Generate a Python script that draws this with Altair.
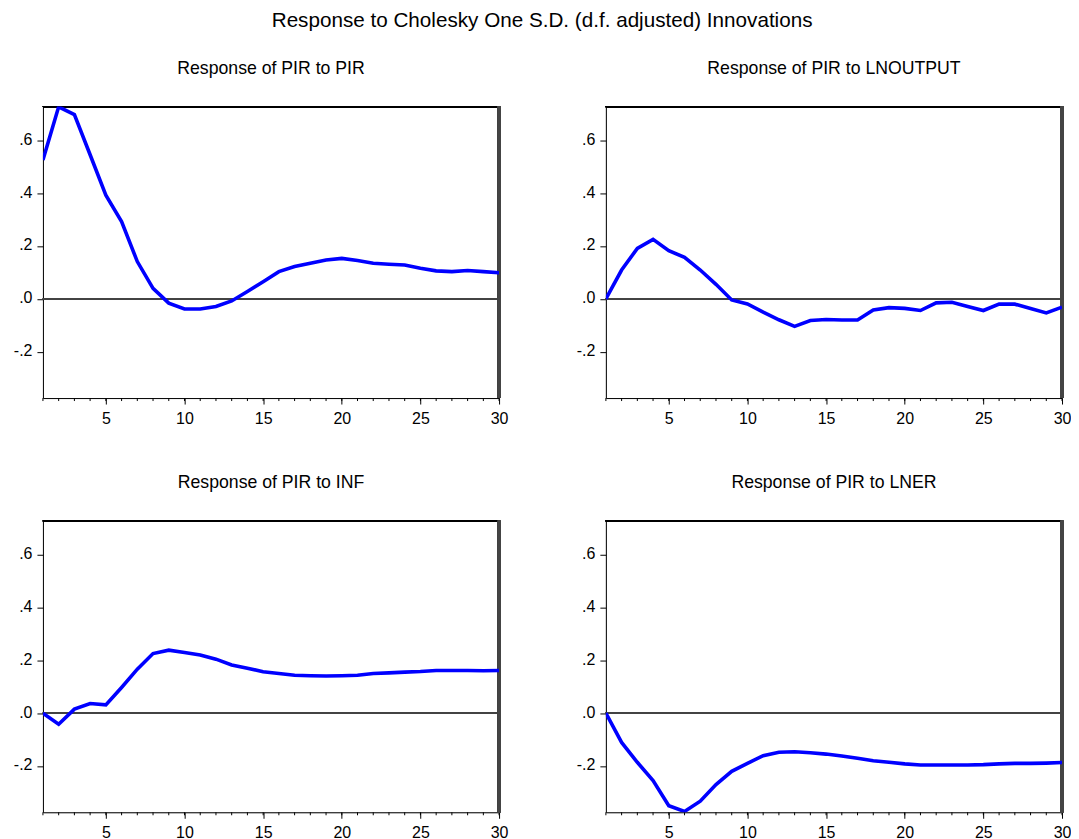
import altair as alt
import pandas as pd

periods = list(range(1, 31))

pir_to_pir = [0.525, 0.726, 0.697, 0.545, 0.392, 0.292, 0.141, 0.040, -0.016, -0.038,
              -0.038, -0.029, -0.008, 0.028, 0.065, 0.103, 0.122, 0.135, 0.147, 0.153,
              0.145, 0.135, 0.131, 0.128, 0.116, 0.106, 0.103, 0.107, 0.103, 0.099]
pir_to_lnoutput = [0.000, 0.109, 0.191, 0.225, 0.182, 0.157, 0.109, 0.055, -0.004, -0.019,
                   -0.050, -0.079, -0.104, -0.082, -0.078, -0.080, -0.080, -0.042, -0.033, -0.036,
                   -0.044, -0.015, -0.013, -0.029, -0.044, -0.020, -0.020, -0.036, -0.053, -0.031]
pir_to_inf = [0.000, -0.042, 0.015, 0.036, 0.031, 0.097, 0.166, 0.225, 0.238, 0.229,
              0.220, 0.204, 0.182, 0.170, 0.156, 0.150, 0.143, 0.141, 0.140, 0.141,
              0.143, 0.150, 0.152, 0.155, 0.157, 0.161, 0.161, 0.161, 0.160, 0.161]
pir_to_lner = [0.000, -0.111, -0.186, -0.255, -0.350, -0.372, -0.333, -0.270, -0.220, -0.190,
               -0.161, -0.148, -0.146, -0.150, -0.155, -0.162, -0.171, -0.180, -0.186, -0.192,
               -0.196, -0.196, -0.196, -0.196, -0.195, -0.192, -0.190, -0.190, -0.189, -0.187]

panel_titles = ["Response of PIR to PIR", "Response of PIR to LNOUTPUT",
                "Response of PIR to INF", "Response of PIR to LNER"]
series = [pir_to_pir, pir_to_lnoutput, pir_to_inf, pir_to_lner]
y_ticks = [-0.2, 0.0, 0.2, 0.4, 0.6]
x_major_ticks = [5, 10, 15, 20, 25, 30]

FONT = "Liberation Sans, Arial, sans-serif"
W, H = 457, 292
Y_DOMAIN = [-0.375, 0.727]

Y_LABEL = "replace(replace(format(datum.value, '.1f'), '0.', '.'), '\u2212', '-')"


def panel(title, values):
    df = pd.DataFrame({"period": periods, "value": values})
    base = alt.Chart(df)
    xscale = alt.Scale(domain=[1, 30], nice=False, zero=False)
    x = alt.X("period:Q", scale=xscale,
              axis=alt.Axis(values=x_major_ticks, title=None, grid=False,
                            tickSize=6, labelPadding=6, labelFontSize=16, labelFont=FONT,
                            labelColor="black", tickColor="black", domainColor="black",
                            labelFlush=False, labelOverlap=False))
    y = alt.Y("value:Q",
              scale=alt.Scale(domain=Y_DOMAIN, nice=False, zero=False),
              axis=alt.Axis(values=y_ticks, title=None, grid=False,
                            labelExpr=Y_LABEL,
                            tickSize=6, labelPadding=5, labelFontSize=16, labelFont=FONT,
                            labelBaseline="alphabetic", labelOffset=4,
                            labelColor="black", tickColor="black", domainColor="black",
                            labelFlush=False, labelOverlap=False))
    minor = base.mark_rule(color="black", strokeWidth=1).encode(
        x=alt.X("period:Q", scale=xscale), y=alt.value(H), y2=alt.value(H + 3))
    zero = base.mark_rule(color="#444444", strokeWidth=1).encode(y=alt.datum(0))
    top = base.mark_rule(color="black", strokeWidth=1.2).encode(
        x=alt.value(0), x2=alt.value(W), y=alt.value(0))
    right = base.mark_rule(color="#444444", strokeWidth=2.5).encode(x=alt.datum(30))
    line = base.mark_line(color="#0000FF", strokeWidth=3.6, clip=True).encode(x=x, y=y)
    return alt.layer(minor, zero, top, right, line).properties(
        width=W, height=H,
        title=alt.TitleParams(title, fontSize=17.7, font=FONT, fontWeight="normal",
                              anchor="middle", baseline="alphabetic", offset=14,
                              color="black"))


chart = alt.concat(*[panel(t, s) for t, s in zip(panel_titles, series)],
                   columns=2, spacing={"row": 123, "column": 107}, bounds="flush").properties(
    title=alt.TitleParams("Response to Cholesky One S.D. (d.f. adjusted) Innovations",
                          fontSize=20.7, font=FONT, fontWeight="normal", anchor="middle",
                          color="black", offset=22, dy=-6),
    padding={"left": 4, "top": 0, "right": -1, "bottom": 0},
).configure_view(stroke="black", strokeWidth=1.5).configure(background="white")

chart.save("out.html", embed_options={"renderer": "svg", "actions": False})
